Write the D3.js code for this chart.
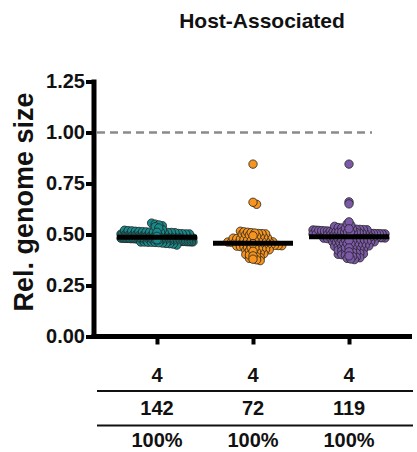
<!DOCTYPE html>
<html>
<head>
<meta charset="utf-8">
<script src="https://cdn.jsdelivr.net/npm/d3@7"></script>
<style>
  body { margin: 0; background: #fff; }
  svg text { font-family: "Liberation Sans", Arial, Helvetica, sans-serif; font-weight: bold; fill: #111; }
</style>
</head>
<body>
<div id="chart"></div>
<script>
'use strict';

// data
let groups = ['teal', 'orange', 'purple'];
let colors = ['#178b8b', '#f7941d', '#7d5aa8'];

let tealValues = [
    0.556, 0.551, 0.547, 0.543, 0.538, 0.532,
    0.524, 0.521, 0.519, 0.518, 0.516, 0.515, 0.514, 0.513, 0.512, 0.512, 0.511, 0.511, 0.510, 0.510, 0.510, 0.509,
    0.505, 0.504, 0.503, 0.503, 0.502, 0.502, 0.501, 0.501, 0.500, 0.500,
    0.499, 0.499, 0.498, 0.498, 0.497, 0.497, 0.496, 0.496, 0.496, 0.495,
    0.495, 0.495, 0.494, 0.494, 0.494, 0.493, 0.493, 0.493, 0.492, 0.492,
    0.492, 0.491, 0.491, 0.491, 0.491, 0.490, 0.490, 0.490, 0.490, 0.489,
    0.489, 0.489, 0.488, 0.488, 0.488, 0.487, 0.487, 0.487, 0.487, 0.486, 0.486,
    0.486, 0.486, 0.485, 0.485, 0.485, 0.484, 0.484, 0.484, 0.483, 0.483,
    0.483, 0.482, 0.482, 0.482, 0.481, 0.481, 0.481, 0.480, 0.480, 0.480,
    0.479, 0.479, 0.479, 0.478, 0.478, 0.478, 0.477, 0.477, 0.477, 0.476,
    0.476, 0.476, 0.475, 0.475,
    0.474, 0.474, 0.473, 0.473, 0.472, 0.472, 0.471, 0.471, 0.470, 0.470,
    0.469, 0.469, 0.468, 0.468, 0.467, 0.467, 0.466, 0.466, 0.466, 0.465,
    0.465, 0.465, 0.464, 0.464, 0.463, 0.463, 0.462, 0.462, 0.461, 0.460,
    0.458, 0.456, 0.455, 0.453, 0.448
];

let orangeValues = [
    0.845, 0.658, 0.648,
    0.516, 0.513, 0.511, 0.509, 0.507, 0.505, 0.504, 0.503, 0.502, 0.500,
    0.497, 0.494, 0.491, 0.489, 0.486, 0.484, 0.482, 0.480, 0.478, 0.476, 0.472, 0.470,
    0.469, 0.468, 0.467, 0.466, 0.465, 0.464, 0.463, 0.462, 0.461, 0.460, 0.458,
    0.457, 0.456, 0.455, 0.454, 0.453, 0.451, 0.450, 0.449, 0.447, 0.446, 0.445,
    0.443, 0.441, 0.439, 0.437, 0.435, 0.433, 0.431, 0.429, 0.427, 0.425, 0.423, 0.421,
    0.418, 0.414, 0.410, 0.406, 0.402, 0.399, 0.395, 0.391, 0.387, 0.383,
    0.379, 0.376, 0.372
];

let purpleValues = [
    0.845, 0.660, 0.650,
    0.562, 0.552, 0.546, 0.540,
    0.534, 0.532, 0.530, 0.528, 0.527, 0.526, 0.525, 0.524, 0.523, 0.522, 0.521, 0.520, 0.519,
    0.518, 0.517, 0.516, 0.515, 0.514, 0.514, 0.513, 0.513, 0.512, 0.511, 0.511, 0.510,
    0.509, 0.508, 0.507, 0.506, 0.505, 0.505, 0.504, 0.504, 0.503, 0.503, 0.502, 0.502, 0.501,
    0.501, 0.500, 0.500, 0.499, 0.498, 0.497, 0.496, 0.495, 0.494, 0.493, 0.492, 0.491, 0.490,
    0.489, 0.488, 0.487, 0.486, 0.485, 0.484, 0.483, 0.482, 0.480, 0.479, 0.477, 0.476, 0.474,
    0.473, 0.471, 0.470, 0.469, 0.468, 0.467, 0.466, 0.465, 0.464, 0.463, 0.462, 0.461,
    0.458, 0.456, 0.454, 0.452, 0.450, 0.448, 0.446, 0.444, 0.442, 0.440, 0.438, 0.436, 0.434, 0.432, 0.430,
    0.428, 0.425, 0.423, 0.420, 0.418, 0.415, 0.413, 0.410, 0.408, 0.405, 0.403, 0.401,
    0.398, 0.395, 0.392, 0.389, 0.386, 0.383, 0.380, 0.377
];

let allValues = [tealValues, orangeValues, purpleValues];
let yTicks = [0, 0.25, 0.5, 0.75, 1.0, 1.25];
let tableRows = [
    ['4', '4', '4'],
    ['142', '72', '119'],
    ['100%', '100%', '100%']
];
let title = 'Host-Associated';
let yLabel = 'Rel. genome size';
let refValue = 1.0;

// layout
let width = 417, height = 452;
let plotLeft = 94, plotRight = 412, plotTop = 81.5, plotBottom = 336.5;
let swarmWidth = 72, rowH = 4, dotR = 4.2, dotGap = 3.6;

let svg = d3.select('#chart').append('svg')
    .attr('width', width)
    .attr('height', height);

let x = d3.scalePoint().domain(groups).range([plotLeft, plotRight]).padding(0.656);
let y = d3.scaleLinear().domain([0, 1.25]).range([plotBottom, plotTop]);

// title + y label
svg.append('text')
    .attr('x', 262).attr('y', 28)
    .attr('text-anchor', 'middle')
    .style('font-size', '21px')
    .text(title);

svg.append('text')
    .attr('transform', 'translate(33,' + ((plotTop + plotBottom) / 2 - 7) + ') rotate(-90)')
    .attr('text-anchor', 'middle')
    .style('font-size', '27px')
    .text(yLabel);

// reference line
svg.append('line')
    .attr('x1', plotLeft + 3).attr('x2', 372)
    .attr('y1', y(refValue)).attr('y2', y(refValue))
    .style('stroke', '#8a8a8a')
    .style('stroke-width', 2.5)
    .style('stroke-dasharray', '8,5');

// simple column scatter: bin by row, spread each row around the centre
function layout(values) {
    let rows = d3.group(values, function(v) { return Math.round(y(v) / rowH); });
    let pts = [];
    let r = 0;
    rows.forEach(function(vals) {
        let n = vals.length;
        let sp = n > 1 ? Math.min(dotGap, swarmWidth / (n - 1)) : 0;
        let shift = (r++ % 2) ? sp / 2 : 0;
        if (n === 1) shift = 0;
        vals.forEach(function(v, i) {
            let k = (i - (n - 1) / 2);
            pts.push({ v: v, dx: k * sp + (Math.abs(k * sp) + sp < swarmWidth / 2 ? shift : 0) });
        });
    });
    // outer points first, centre ones on top
    pts.sort(function(a, b) { return d3.descending(Math.abs(a.dx), Math.abs(b.dx)); });
    return pts;
}

groups.forEach(function(gname, gi) {
    let pts = layout(allValues[gi]);
    svg.append('g')
        .selectAll('circle')
        .data(pts)
        .enter().append('circle')
        .attr('cx', function(d) { return x(gname) + d.dx; })
        .attr('cy', function(d) { return y(d.v); })
        .attr('r', dotR)
        .style('fill', colors[gi])
        .style('stroke', '#222')
        .style('stroke-width', 0.8);

    let med = d3.median(allValues[gi]);
    svg.append('line')
        .attr('x1', x(gname) - 40).attr('x2', x(gname) + 40)
        .attr('y1', y(med)).attr('y2', y(med))
        .style('stroke', '#000')
        .style('stroke-width', 5);
});

// axes
let yAxis = d3.axisLeft(y)
    .tickValues(yTicks)
    .tickFormat(d3.format('.2f'))
    .tickSize(8)
    .tickSizeOuter(0)
    .tickPadding(1);

let gY = svg.append('g')
    .attr('transform', 'translate(' + plotLeft + ',0)')
    .call(yAxis);
gY.select('.domain').attr('d', 'M0,' + (plotTop - 2) + 'V' + (plotBottom + 2.5))
    .style('stroke', '#000').style('stroke-width', 5);
gY.selectAll('.tick line').style('stroke', '#000').style('stroke-width', 4);
gY.selectAll('.tick text').style('font-size', '20px').style('fill', '#111');

let xAxis = d3.axisBottom(x)
    .tickFormat('')
    .tickSize(8)
    .tickSizeOuter(0);

let gX = svg.append('g')
    .attr('transform', 'translate(0,' + plotBottom + ')')
    .call(xAxis);
gX.select('.domain').attr('d', 'M' + (plotLeft - 2.5) + ',0H' + plotRight)
    .style('stroke', '#000').style('stroke-width', 5);
gX.selectAll('.tick line').style('stroke', '#000').style('stroke-width', 4);

// table under the chart
let rowY = [382, 415, 447];
tableRows.forEach(function(row, ri) {
    svg.append('g').selectAll('text')
        .data(row)
        .enter().append('text')
        .attr('x', function(d, i) { return x(groups[i]); })
        .attr('y', rowY[ri])
        .attr('text-anchor', 'middle')
        .style('font-size', '20px')
        .text(function(d) { return d; });
});

[391, 425.5].forEach(function(ly) {
    svg.append('line')
        .attr('x1', 97).attr('x2', 413)
        .attr('y1', ly).attr('y2', ly)
        .style('stroke', '#111')
        .style('stroke-width', 2);
});
</script>
</body>
</html>
